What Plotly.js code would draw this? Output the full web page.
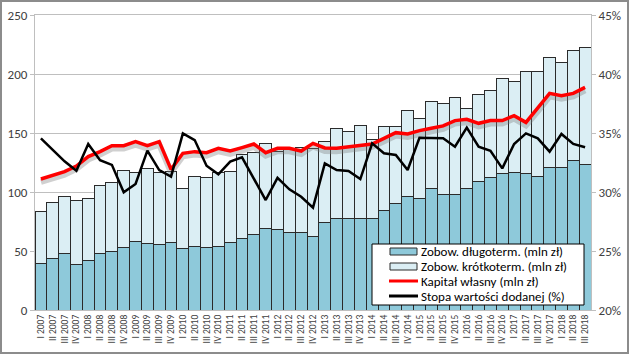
<!DOCTYPE html>
<html><head><meta charset="utf-8">
<script src="https://cdn.plot.ly/plotly-3.0.1.min.js"></script>
<style>
html,body{margin:0;padding:0;background:#fff;}
#wrap{position:relative;width:629px;height:354px;}
#chart{width:629px;height:354px;}
#frame{position:absolute;left:0;top:0;width:629px;height:354px;box-sizing:border-box;border:2px solid #8c8c8c;pointer-events:none;}
</style></head>
<body><div id="wrap"><div id="chart"></div><div id="frame"></div></div>
<script>
const quarters = [
 "I 2007","II 2007","III 2007","IV 2007","I 2008","II 2008","III 2008","IV 2008",
 "I 2009","II 2009","III 2009","IV 2009","I 2010","II 2010","III 2010","IV 2010",
 "I 2011","II 2011","III 2011","IV 2011","I 2012","II 2012","III 2012","IV 2012",
 "I 2013","II 2013","III 2013","IV 2013","I 2014","II 2014","III 2014","IV 2014",
 "I 2015","II 2015","III 2015","IV 2015","I 2016","II 2016","III 2016","IV 2016",
 "I 2017","II 2017","III 2017","IV 2017","I 2018","II 2018","III 2018"];
const longTerm = [39.3,43.8,47.5,38.7,42.1,47.5,49.2,53.1,57.9,56.5,55.6,57.6,52.5,54.2,53.1,54,
 57.3,61,64.4,69.2,68.1,66.1,66.1,62.4,74.3,77.7,77.7,77.7,77.7,84.5,90.4,96,
 94.3,103.1,98,98,103.1,109.3,112.1,115.8,116.4,115.8,113,120.6,120.6,126.8,123.4];
const totalLiab = [83.1,91.5,96.3,92.9,94.4,105.6,107.9,118.4,116.7,120.1,116.4,117.8,103.1,113,112.4,116.4,
 117.8,131.4,133.3,141.2,134.7,137,137.9,137,142.7,154.2,151.4,156.2,144.6,155.1,155.7,169.2,
 162.4,176.6,174.9,180,170.9,183,186.4,196.6,193.5,202,202,213.6,209.9,220,222.6];
const shortTerm = totalLiab.map((t,i)=>+(t-longTerm[i]).toFixed(1));
const equity = [111,113.8,117.2,122,130,134.2,139.3,139.3,142.7,139.3,142.7,119.2,132.8,134.2,133.3,137,
 134.7,137.6,140.7,133.3,137,137,134.7,141.2,137.3,137,138.4,139.8,140.7,145.5,150.3,149.2,
 152,154,156,160.5,161.6,158.2,160.5,160.5,164.7,159,170.9,183.6,181.6,183.6,188.7];
const valueAddedRate = [34.55,33.56,32.6,31.8,34.07,32.7,32.3,29.97,30.68,33.5,31.86,31.3,34.97,34.4,32.23,31.5,
 32.57,32.94,31.07,29.32,31.2,30.23,29.6,28.67,32.43,31.86,31.78,31.1,34.12,33.28,33.14,31.86,
 34.6,34.55,34.55,33.84,35.45,33.84,33.5,32,34.07,34.97,34.55,33.42,34.92,34.07,33.79];
const seriesNames = ['Zobow. długoterm. (mln zł)','Zobow. krótkoterm. (mln zł)','Kapitał własny (mln zł)','Stopa wartości dodanej (%)'];

const FONT = "Carlito, Calibri, 'Liberation Sans Narrow', 'Open Sans', sans-serif";
const C_LONG = '#8ec9da', C_SHORT = '#dbeef4', C_EDGE = '#2b2b2b';
const traces = [
 {type:'bar', name:seriesNames[0], x:quarters, y:longTerm,
  marker:{color:C_LONG, line:{color:C_EDGE, width:1}}},
 {type:'bar', name:seriesNames[1], x:quarters, y:shortTerm,
  marker:{color:C_SHORT, line:{color:C_EDGE, width:1}}},
 {type:'scatter', mode:'lines', name:'shadow', x:quarters, y:equity.map(v=>v-2.5),
  line:{color:'rgba(120,120,120,0.35)', width:6}, hoverinfo:'skip'},
 {type:'scatter', mode:'lines', name:seriesNames[2], x:quarters, y:equity,
  line:{color:'#ff0000', width:3.5}},
 {type:'scatter', mode:'lines', name:seriesNames[3], x:quarters, y:valueAddedRate, yaxis:'y2',
  line:{color:'#000000', width:2.5}}
];

// manual legend (pixel geometry -> paper coords)
const L=35, R=591, T=15, B=310;
const px = v => (v-L)/(R-L), py = v => (B-v)/(B-T);
const shapes = [
 {type:'rect', xref:'paper', yref:'paper', x0:px(372), x1:px(584), y0:py(305), y1:py(244),
  fillcolor:'#ffffff', line:{color:'#000000', width:1}, layer:'above'}
];
const annotations = [];
const rows = [251.5, 266.5, 281, 296];
rows.forEach((ry,i)=>{
  if(i<2){
    shapes.push({type:'rect', xref:'paper', yref:'paper', x0:px(390), x1:px(417), y0:py(ry+3.5), y1:py(ry-3.5),
      fillcolor: i===0?C_LONG:C_SHORT, line:{color:C_EDGE, width:1}, layer:'above'});
  } else {
    shapes.push({type:'line', xref:'paper', yref:'paper', x0:px(389), x1:px(418), y0:py(ry), y1:py(ry),
      line:{color: i===2?'#ff0000':'#000000', width:3}, layer:'above'});
  }
  annotations.push({xref:'paper', yref:'paper', x:px(419), y:py(ry), xanchor:'left', yanchor:'middle',
    text:seriesNames[i], showarrow:false, font:{family:FONT, size:13, color:'#000000'}});
});

const layout = {
 width:629, height:354,
 margin:{l:35, r:38, t:15, b:44},
 paper_bgcolor:'#ffffff', plot_bgcolor:'#ffffff',
 barmode:'stack', bargap:0,
 font:{family:FONT, color:'#404040'},
 showlegend:false,
 shapes:shapes, annotations:annotations,
 xaxis:{type:'category', tickangle:-90, tickfont:{family:FONT, size:9.5, color:'#404040'},
   showline:true, linecolor:'#bfbfbf', mirror:true, ticks:'', showgrid:false, automargin:false},
 yaxis:{range:[0,250], dtick:50, tickfont:{family:FONT, size:13, color:'#404040'},
   showgrid:true, gridcolor:'#bfbfbf', gridwidth:1, showline:true, linecolor:'#bfbfbf',
   ticks:'outside', ticklen:4, tickcolor:'#bfbfbf', zeroline:false, automargin:false},
 yaxis2:{range:[20,45], dtick:5, overlaying:'y', side:'right', ticksuffix:'%',
   tickfont:{family:FONT, size:13, color:'#404040'}, showgrid:false, showline:true,
   linecolor:'#bfbfbf', ticks:'outside', ticklen:4, tickcolor:'#bfbfbf', zeroline:false, automargin:false}
};
Plotly.newPlot('chart', traces, layout, {staticPlot:true, displayModeBar:false});
</script></body></html>
